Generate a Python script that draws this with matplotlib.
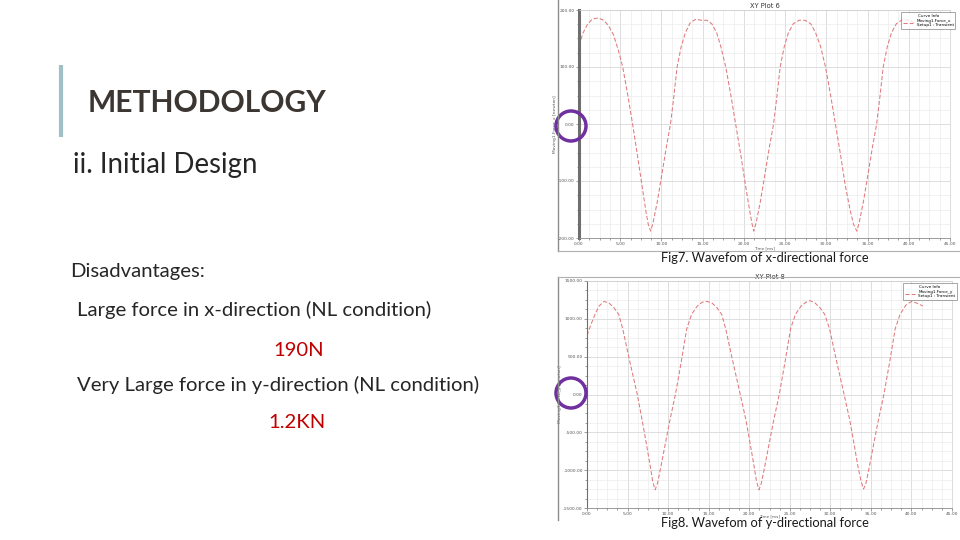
import matplotlib
matplotlib.use("Agg")
import matplotlib.pyplot as plt
from matplotlib.patches import Circle
from matplotlib.ticker import MultipleLocator

# x-directional force waveform (Fig7), time in ms, force in N
fx_time = [0.0, 0.5, 1.0, 1.6, 2.3, 3.0, 3.6, 4.2, 4.8, 5.3, 5.9, 6.5, 7.1, 7.6, 8.1, 8.4, 8.7,
           9.0, 9.5, 10.1, 10.6, 11.1, 11.5, 11.9, 12.4, 12.9, 13.5, 14.2, 14.8, 15.5, 16.1, 16.7,
           17.2, 17.8, 18.4, 19.0, 19.6, 20.2, 20.7, 21.0, 21.2,
           21.5, 22.0, 22.6, 23.1, 23.6, 24.0, 24.4, 24.9, 25.4, 26.0, 26.7, 27.4, 28.1, 28.7,
           29.3, 29.9, 30.5, 31.1, 31.7, 32.3, 32.9, 33.3, 33.7,
           34.0, 34.5, 35.1, 35.6, 36.1, 36.5, 36.9, 37.4, 37.9, 38.5, 39.3, 40.0, 40.6, 41.2, 41.6]
fx_force = [138, 160, 174, 184, 186, 182, 172, 156, 128, 100, 52, 0, -56, -104, -152, -176, -188,
            -172, -136, -84, -40, 0, 48, 100, 136, 160, 178, 184, 182, 182, 176, 160,
            136, 100, 52, 0, -52, -108, -152, -176, -188,
            -172, -136, -84, -40, 0, 48, 100, 136, 160, 176, 182, 182, 176, 160,
            136, 100, 52, 0, -52, -108, -152, -176, -188,
            -172, -136, -84, -40, 0, 48, 100, 136, 160, 176, 184, 182, 178, 172, 168]

# y-directional force waveform (Fig8)
fy_time = [0.0, 0.5, 1.0, 1.5, 2.1, 2.7, 3.3, 3.9, 4.4, 4.9, 5.5, 6.2, 6.8, 7.3, 7.8, 8.1, 8.4,
           8.7, 9.1, 9.6, 10.2, 10.9, 11.6, 12.3, 12.9, 13.6, 14.2, 14.8, 15.4, 16.0, 16.6, 17.1,
           17.6, 18.2, 18.9, 19.6, 20.1, 20.6, 20.9, 21.2,
           21.5, 21.9, 22.4, 23.0, 23.7, 24.4, 25.1, 25.7, 26.4, 27.0, 27.5, 28.1, 28.7, 29.3,
           29.9, 30.4, 31.0, 31.7, 32.4, 32.9, 33.4, 33.8, 34.1,
           34.4, 34.8, 35.3, 35.9, 36.6, 37.3, 38.0, 38.6, 39.3, 40.0, 40.6, 41.4]
fy_force = [780, 930, 1060, 1170, 1230, 1210, 1150, 1060, 870, 620, 330, 0, -340, -640, -950, -1150, -1260,
            -1170, -960, -680, -350, 0, 420, 870, 1060, 1170, 1220, 1230, 1210, 1150, 1060, 870,
            620, 330, 0, -340, -640, -950, -1150, -1260,
            -1170, -960, -680, -350, 0, 420, 870, 1060, 1170, 1220, 1240, 1210, 1150, 1060,
            870, 620, 330, 0, -340, -640, -950, -1150, -1250,
            -1170, -960, -680, -350, 0, 420, 870, 1060, 1180, 1230, 1210, 1170]

x_ticks = [0, 5, 10, 15, 20, 25, 30, 35, 40, 45]
fx_ticks = [-200, -100, 0, 100, 200]
fy_ticks = [-1500, -1000, -500, 0, 500, 1000, 1500]

W, H = 960, 540
fig = plt.figure(figsize=(9.6, 5.4), dpi=100)
fig.patch.set_facecolor("white")

wave_color = "#e07a7c"
txt = "#262626"
red = "#c00000"
body_font = "Lato"


def px_box(x0, y0, x1, y1):
    # pixel box (top-left origin) -> figure fraction
    return [x0 / W, 1 - y1 / H, (x1 - x0) / W, (y1 - y0) / H]


def waveform(rect, t, f, yticks, ystep, title, ylabel, leg_name, thick_left, xlab_y):
    ax = fig.add_axes(rect)
    ax.plot(t, f, color=wave_color, lw=0.75, ls=(0, (4, 2)), label=leg_name)
    ax.set_xlim(0, 45)
    ax.set_ylim(yticks[0], yticks[-1])
    ax.set_xticks(x_ticks)
    ax.set_xticklabels(["%.2f" % v for v in x_ticks])
    ax.set_yticks(yticks)
    ax.set_yticklabels(["%.2f" % v for v in yticks])
    ax.xaxis.set_minor_locator(MultipleLocator(1.25))
    ax.yaxis.set_minor_locator(MultipleLocator(ystep / 4))
    ax.grid(True, which="major", color="#d8d8d8", lw=0.6)
    ax.grid(True, which="minor", color="#ececec", lw=0.5)
    ax.tick_params(axis="both", which="both", labelsize=3.2, colors="#555555",
                   length=2, width=0.4, pad=1)
    ax.tick_params(axis="both", which="minor", length=1.2)
    for s in ("top", "right"):
        ax.spines[s].set_color("#cfcfcf")
        ax.spines[s].set_linewidth(0.5)
    ax.spines["bottom"].set_color("#8a8a8a")
    ax.spines["bottom"].set_linewidth(0.6)
    ax.spines["left"].set_color("#6e6e6e")
    ax.spines["left"].set_linewidth(2.2 if thick_left else 0.8)
    ax.set_axisbelow(True)
    ax.set_title(title, fontsize=4.8, color="#333333", pad=1.5)
    ax.set_xlabel("Time [ms]", fontsize=3, color="#555555")
    ax.xaxis.set_label_coords(0.5, xlab_y)
    ax.set_ylabel(ylabel, fontsize=3.2, color="#555555", labelpad=1)
    leg = ax.legend(loc="upper right", bbox_to_anchor=(1.02, 1.0), fontsize=3,
                    title="Curve Info", title_fontsize=3, frameon=True,
                    fancybox=False, handlelength=2.5, borderpad=0.4, labelspacing=0.2)
    leg.get_frame().set_edgecolor("#666666")
    leg.get_frame().set_linewidth(0.5)
    return ax


waveform(px_box(579, 10, 950, 238), fx_time, fx_force, fx_ticks, 100,
         "XY Plot 6", "Moving1.Force_x [newton]", "Moving1.Force_x\nSetup1 : Transient",
         True, -0.035)
waveform(px_box(587, 281, 952, 508), fy_time, fy_force, fy_ticks, 500,
         "XY Plot 8", "Moving1.Force_y [newton]", "Moving1.Force_y\nSetup1 : Transient",
         False, -0.03)

# overlay in pixel coordinates for the slide text and marks
ov = fig.add_axes([0, 0, 1, 1], zorder=5)
ov.set_xlim(0, W)
ov.set_ylim(H, 0)
ov.axis("off")
ov.patch.set_alpha(0)

# picture frames
ov.plot([558, 558], [0, 251], color="#8c8c8c", lw=1)
ov.plot([558, 960], [251, 251], color="#b0b0b0", lw=0.8)
ov.plot([558, 558], [277, 520], color="#8c8c8c", lw=1)
ov.plot([558, 960], [277, 277], color="#b0b0b0", lw=0.8)

# title accent bar
ov.plot([61, 61], [65, 137], color="#9fc1c6", lw=3, solid_capstyle="butt")

ov.text(88, 103, "METHODOLOGY", fontsize=21.6, fontweight="bold", color="#3b3632",
        family=body_font, va="center", ha="left")
ov.text(73, 165, "ii. Initial Design", fontsize=19.9, color=txt,
        family=body_font, va="center", ha="left")
ov.text(70, 272, "Disadvantages:", fontsize=14.6, color=txt,
        family=body_font, va="center", ha="left")
ov.text(77, 310, "Large force in x-direction (NL condition)", fontsize=14.6, color=txt,
        family=body_font, va="center", ha="left")
ov.text(299, 350, "190N", fontsize=14.6, color=red,
        family=body_font, va="center", ha="center")
ov.text(77, 385, "Very Large force in y-direction (NL condition)", fontsize=14.6, color=txt,
        family=body_font, va="center", ha="left")
ov.text(297, 423, "1.2KN", fontsize=14.6, color=red,
        family=body_font, va="center", ha="center")

ov.text(765, 258, "Fig7. Wavefom of x-directional force", fontsize=9.3, color="#1a1a1a",
        family=body_font, va="center", ha="center")
ov.text(765, 523, "Fig8. Wavefom of y-directional force", fontsize=9.3, color="#1a1a1a",
        family=body_font, va="center", ha="center")

# highlight circles on the y-axis labels
ov.add_patch(Circle((571, 126), 15, fill=False, edgecolor="#7030a0", lw=2.5))
ov.add_patch(Circle((571, 393), 15, fill=False, edgecolor="#7030a0", lw=2.5))

fig.savefig("out.png", dpi=100)
